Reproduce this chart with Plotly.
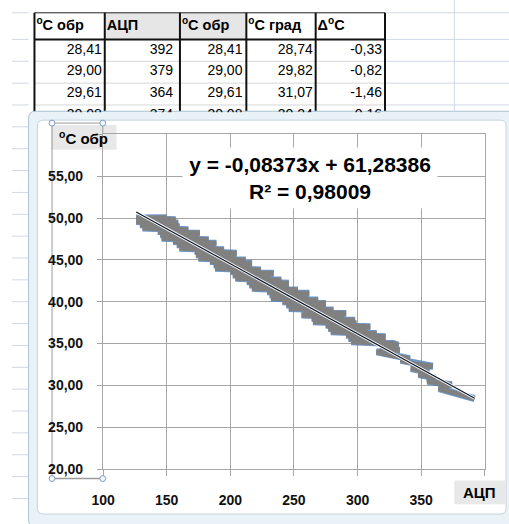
import numpy as np
import plotly.graph_objects as go

# ---------------- data ----------------
# spreadsheet table (visible rows)
tbl_headers = ["<sup>o</sup>C обр", "АЦП", "<sup>o</sup>C обр", "<sup>o</sup>C град", "Δ<sup>o</sup>C"]
tbl_col1 = ["28,41", "29,00", "29,61", "30,08"]
tbl_col2 = ["392", "379", "364", "374"]
tbl_col3 = ["28,41", "29,00", "29,61", "30,08"]
tbl_col4 = ["28,74", "29,82", "31,07", "30,24"]
tbl_col5 = ["-0,33", "-0,82", "-1,46", "-0,16"]

# measured series: ADC code vs reference temperature
adc = [392, 379, 364, 374, 355, 361, 348, 356, 342, 359, 344, 334, 341, 326, 315, 333, 318, 332,
       328, 295, 322, 293, 322, 291, 315, 279, 308, 277,
       310, 275, 299, 265, 298, 264, 289, 256, 291, 258,
       281, 246, 275, 244, 275, 241, 269, 232, 261, 231,
       262, 229, 253, 217, 246, 215, 246, 213, 240, 204,
       232, 202, 234, 200, 224, 188, 217, 187, 217, 184,
       212, 175, 204, 173, 205, 172, 195, 160, 188, 158,
       189, 155, 183, 146, 175, 145, 176, 143, 167, 131,
       160, 129, 159, 126, 157, 126, 150]
temp = [28.41, 29.00, 29.61, 30.08, 30.5, 30.9, 31.3, 31.6, 32.0, 32.3, 32.6, 33.0, 33.2, 33.6, 34.0, 34.2, 34.6, 34.8,
        35.0, 35.2, 35.4, 35.6, 35.8, 36.0, 36.2, 36.4, 36.6, 36.8,
        37.0, 37.2, 37.4, 37.6, 37.8, 38.0, 38.2, 38.4, 38.6, 38.8,
        39.0, 39.2, 39.4, 39.6, 39.8, 40.0, 40.2, 40.4, 40.6, 40.8,
        41.0, 41.2, 41.4, 41.6, 41.8, 42.0, 42.2, 42.4, 42.6, 42.8,
        43.0, 43.2, 43.4, 43.6, 43.8, 44.0, 44.2, 44.4, 44.6, 44.8,
        45.0, 45.2, 45.4, 45.6, 45.8, 46.0, 46.2, 46.4, 46.6, 46.8,
        47.0, 47.2, 47.4, 47.6, 47.8, 48.0, 48.2, 48.4, 48.6, 48.8,
        49.0, 49.2, 49.4, 49.6, 49.8, 50.0, 50.05]

trend_slope = -0.08373
trend_intercept = 61.28386
eq_text = "y = -0,08373x + 61,28386<br>R² = 0,98009"

x_tickvals = [100, 150, 200, 250, 300, 350, 400]
x_ticktext = ["100", "150", "200", "250", "300", "350", ""]
y_tickvals = [20, 25, 30, 35, 40, 45, 50, 55, 60]
y_ticktext = ["20,00", "25,00", "30,00", "35,00", "40,00", "45,00", "50,00", "55,00", ""]

x_title = "АЦП"
y_title = "<sup>o</sup>C обр"

# ---------------- layout helpers ----------------
W, H = 509, 524
FONT = "Liberation Sans"


def X(p):
    return p / W


def Y(p):
    return 1 - p / H


shapes = []


def line(x0, y0, x1, y1, color, width=1):
    shapes.append(dict(type="line", xref="paper", yref="paper", x0=X(x0), y0=Y(y0), x1=X(x1), y1=Y(y1),
                       line=dict(color=color, width=width), layer="below"))


def rect(x0, y0, x1, y1, fill, lc=None, lw=0):
    shapes.append(dict(type="rect", xref="paper", yref="paper", x0=X(x0), y0=Y(y0), x1=X(x1), y1=Y(y1),
                       fillcolor=fill, line=dict(color=lc or fill, width=lw), layer="below"))


def rrect(x0, y0, x1, y1, r, fill, lc, lw=1):
    p = (f"M {X(x0 + r)} {Y(y0)} L {X(x1 - r)} {Y(y0)} Q {X(x1)} {Y(y0)} {X(x1)} {Y(y0 + r)} "
         f"L {X(x1)} {Y(y1 - r)} Q {X(x1)} {Y(y1)} {X(x1 - r)} {Y(y1)} "
         f"L {X(x0 + r)} {Y(y1)} Q {X(x0)} {Y(y1)} {X(x0)} {Y(y1 - r)} "
         f"L {X(x0)} {Y(y0 + r)} Q {X(x0)} {Y(y0)} {X(x0 + r)} {Y(y0)} Z")
    shapes.append(dict(type="path", xref="paper", yref="paper", path=p, fillcolor=fill,
                       line=dict(color=lc, width=lw), layer="below"))


def circle(cx, cy, r=3):
    shapes.append(dict(type="circle", xref="paper", yref="paper", x0=X(cx - r), y0=Y(cy + r),
                       x1=X(cx + r), y1=Y(cy - r), fillcolor="#f4f7fb",
                       line=dict(color="#7f9cc4", width=1), layer="below"))


# spreadsheet grid
GRID = "#d0d7e5"
row_lines = [13, 40, 62.2, 84.4, 106.6]
for k in range(1, 22):
    row_lines.append(40 + 22.2 * k)
for yy in sorted(set(row_lines)):
    line(0, yy, 17, yy, GRID)
    if yy < 113:
        line(382, yy, 509, yy, GRID)
line(453, 0, 453, 113, GRID)

# table
col_x = [23, 95, 172, 240, 311, 382]
rect(95, 13, 240, 40, "#e6e6e6")
for yy in [62.2, 84.4, 106.6]:
    line(23, yy, 382, yy, "#d6d6d6")
line(23, 13, 382, 13, "#222222", 1)
line(23, 40, 382, 40, "#111111", 2)
for cx in col_x:
    line(cx, 13, cx, 114, "#111111", 2)

# chart frame
rrect(17, 113, 520, 535, 7, "#e9f3f7", "#a9c3d3", 1)
rrect(26, 122, 506, 522, 6, "#ffffff", "#c4d3de", 1)

# axis title boxes
rect(40, 127, 107, 152, "#e8e8e8")
rect(453, 488, 505, 512, "#e8e8e8")

# y-axis selection frame
SEL = "#9a9a9a"
line(41, 125, 41, 486, SEL, 1)
line(41, 486, 93, 486, SEL, 1.5)
line(41, 125, 93, 125, SEL, 1)
line(93, 125, 93, 136, SEL, 1)
for cx, cy in [(41, 125), (93, 125), (41, 486), (93, 486)]:
    circle(cx, cy)

# ---------------- figure ----------------
fig = go.Figure()

fig.add_trace(go.Scatter(x=adc, y=temp, mode="lines",
                         line=dict(color="rgba(74,126,187,0.8)", width=7), hoverinfo="skip"))
fig.add_trace(go.Scatter(x=adc, y=temp, mode="lines",
                         line=dict(color="#808080", width=5), hoverinfo="skip"))

tx = np.array([min(adc), max(adc)], dtype=float)
ty = trend_slope * tx + trend_intercept
fig.add_trace(go.Scatter(x=tx, y=ty, mode="lines", line=dict(color="#ffffff", width=3), hoverinfo="skip"))
fig.add_trace(go.Scatter(x=tx, y=ty, mode="lines", line=dict(color="#0a1428", width=1.2), hoverinfo="skip"))

# table text (pixel subplot, clipped under chart frame)
hdr_x = [25, 97, 174, 242, 313]
val_right = [92, 165, 236, 308, 379]
row_y = [51, 73, 95, 117.5]
fig.add_trace(go.Scatter(x=hdr_x, y=[27] * 5, mode="text", text=[f"<b>{h}</b>" for h in tbl_headers],
                         textposition="middle right", xaxis="x2", yaxis="y2", cliponaxis=True,
                         textfont=dict(family=FONT, size=14.5, color="#000000"), hoverinfo="skip"))
cols = [tbl_col1, tbl_col2, tbl_col3, tbl_col4, tbl_col5]
for ci, col in enumerate(cols):
    fig.add_trace(go.Scatter(x=[val_right[ci]] * len(col), y=row_y, mode="text", text=col,
                             textposition="middle left", xaxis="x2", yaxis="y2", cliponaxis=True,
                             textfont=dict(family=FONT, size=14, color="#000000"), hoverinfo="skip"))

AX = "#a6a6a6"
fig.update_layout(
    width=W, height=H, margin=dict(l=0, r=0, t=0, b=0),
    paper_bgcolor="#ffffff", plot_bgcolor="rgba(0,0,0,0)",
    showlegend=False, shapes=shapes,
    xaxis=dict(domain=[X(93.3), X(484.2)], range=[100, 400], tickmode="array",
               tickvals=x_tickvals, ticktext=x_ticktext, showgrid=True, gridcolor=AX, gridwidth=1.3,
               ticks="outside", ticklen=6, tickcolor=AX, tickwidth=1.3, showline=True, mirror=True,
               linecolor=AX, linewidth=1.3, zeroline=False, ticklabelstandoff=12,
               tickfont=dict(family=FONT, size=14, color="#111111", weight="bold"), anchor="y"),
    yaxis=dict(domain=[Y(476.3), Y(136.5)], range=[20, 60], tickmode="array",
               tickvals=y_tickvals, ticktext=y_ticktext, showgrid=True, gridcolor=AX, gridwidth=1.3,
               ticks="outside", ticklen=5, tickcolor=AX, tickwidth=1.3, showline=True, mirror=True,
               linecolor=AX, linewidth=1.3, zeroline=False, ticklabelstandoff=11,
               tickfont=dict(family=FONT, size=14, color="#111111", weight="bold"), anchor="x"),
    xaxis2=dict(domain=[0, 1], range=[0, W], visible=False, anchor="y2", fixedrange=True),
    yaxis2=dict(domain=[Y(114), 1], range=[114, 0], visible=False, anchor="x2", fixedrange=True),
    annotations=[
        dict(xref="paper", yref="paper", x=X(305), y=Y(181), text=f"<b>{eq_text}</b>", showarrow=False,
             font=dict(family=FONT, size=21, color="#000000"), bgcolor="#ffffff",
             width=254, height=60, borderpad=0, xanchor="center", yanchor="middle", align="center"),
        dict(xref="paper", yref="paper", x=X(73.5), y=Y(139.5), text=f"<b>{y_title}</b>", showarrow=False,
             font=dict(family=FONT, size=15, color="#000000"), xanchor="center", yanchor="middle"),
        dict(xref="paper", yref="paper", x=X(479), y=Y(500), text=f"<b>{x_title}</b>", showarrow=False,
             font=dict(family=FONT, size=15, color="#000000"), xanchor="center", yanchor="middle"),
    ],
)

fig.write_html("out.html")
